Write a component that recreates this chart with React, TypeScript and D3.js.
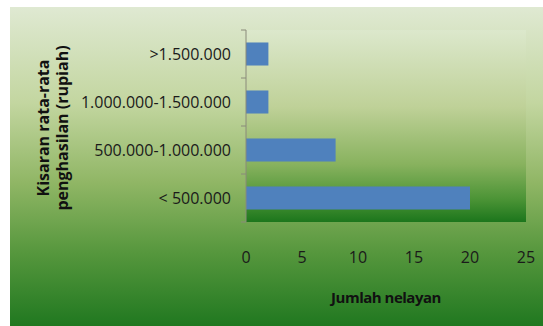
import React from "react";
import * as d3 from "d3";

const categories = [">1.500.000", "1.000.000-1.500.000", "500.000-1.000.000", "< 500.000"];
const values = [2, 2, 8, 20];
const xTicks = [0, 5, 10, 15, 20, 25];
const xTitle = "Jumlah nelayan";
const yTitleLines = ["Kisaran rata-rata", "penghasilan (rupiah)"];

const W = 543;
const H = 326;
const plot = { left: 246, right: 526, top: 30, bottom: 222 };
const FONT = "'Open Sans', 'Noto Sans', sans-serif";

export default function App() {
  const x = d3.scaleLinear().domain([0, 25]).range([plot.left, plot.right]);
  const y = d3
    .scaleBand<string>()
    .domain(categories)
    .range([plot.top, plot.bottom])
    .paddingInner(0.52)
    .paddingOuter(0.26);
  const step = y.step();
  const tickYs = d3.range(categories.length + 1).map((i) => plot.top + i * step);

  return (
    <svg
      width={W}
      height={H}
      style={{ position: "fixed", left: 0, top: 0, display: "block" }}
      fontFamily={FONT}
    >
      <defs>
        <linearGradient id="outerBg" x1="0" y1="0" x2="0" y2="1">
          <stop offset="0" stopColor="#dfe9d2" />
          <stop offset="0.3" stopColor="#c3d6a0" />
          <stop offset="0.55" stopColor="#90b665" />
          <stop offset="0.77" stopColor="#56973d" />
          <stop offset="1" stopColor="#207820" />
        </linearGradient>
        <linearGradient id="plotBg" x1="0" y1="0" x2="0" y2="1">
          <stop offset="0" stopColor="#dce8cc" />
          <stop offset="0.4" stopColor="#bfd198" />
          <stop offset="0.7" stopColor="#88b25e" />
          <stop offset="0.88" stopColor="#4c9436" />
          <stop offset="1" stopColor="#1c761c" />
        </linearGradient>
      </defs>
      <rect x={0} y={0} width={W} height={H} fill="#ffffff" />
      <rect x={10} y={7} width={W - 10} height={H - 7} fill="url(#outerBg)" />
      <rect
        x={plot.left}
        y={plot.top}
        width={plot.right - plot.left}
        height={plot.bottom - plot.top}
        fill="url(#plotBg)"
      />
      {categories.map((c, i) => (
        <rect
          key={c}
          x={x(0)}
          y={y(c)!}
          width={x(values[i]) - x(0)}
          height={y.bandwidth()}
          fill="#4f81bd"
        />
      ))}
      <line x1={plot.left} x2={plot.left} y1={plot.top} y2={plot.bottom} stroke="#8a8a7a" strokeWidth={1} />
      {tickYs.map((ty, i) => (
        <line key={i} x1={plot.left - 5} x2={plot.left} y1={ty} y2={ty} stroke="#8a8a7a" strokeWidth={1} />
      ))}
      {categories.map((c) => (
        <text
          key={c}
          x={231}
          y={y(c)! + y.bandwidth() / 2}
          dy="0.36em"
          textAnchor="end"
          fontSize={16}
          fill="#1a1a1a"
        >
          {c}
        </text>
      ))}
      {xTicks.map((t) => (
        <text key={t} x={x(t)} y={263} textAnchor="middle" fontSize={16} fill="#1a1a1a">
          {t}
        </text>
      ))}
      <text
        x={(plot.left + plot.right) / 2}
        y={303}
        textAnchor="middle"
        fontSize={15}
        letterSpacing={-0.5}
        fontWeight="bold"
        fill="#111111"
      >
        {xTitle}
      </text>
      {yTitleLines.map((line, i) => (
        <text
          key={line}
          transform={`translate(${48.5 + i * 19},128) rotate(-90)`}
          textAnchor="middle"
          fontSize={16}
          fontWeight="bold"
          fill="#111111"
        >
          {line}
        </text>
      ))}
    </svg>
  );
}
